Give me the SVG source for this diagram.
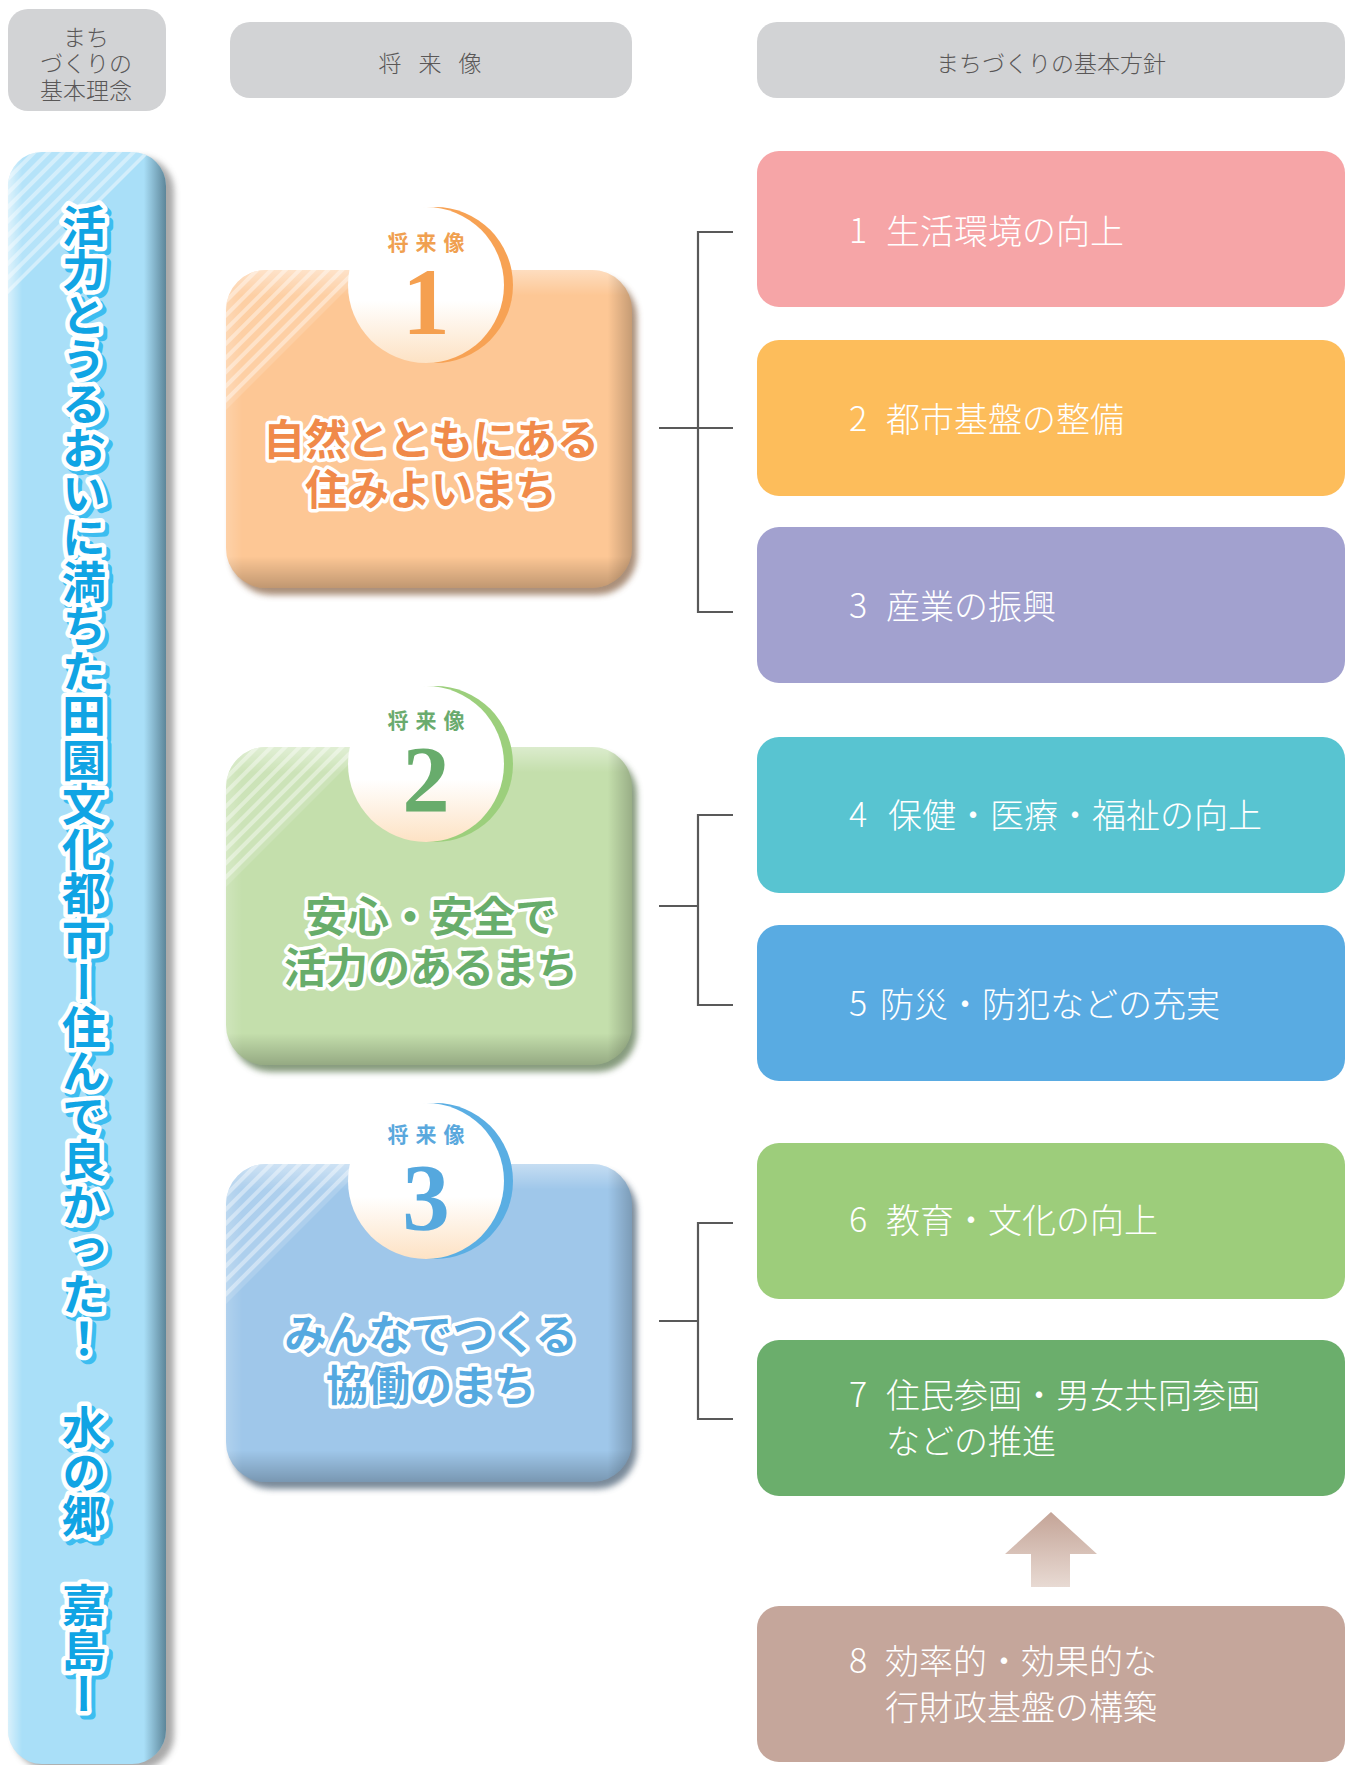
<svg xmlns="http://www.w3.org/2000/svg" width="1351" height="1765" viewBox="0 0 1351 1765">
<style>
text{font-family:"Noto Sans CJK JP","Noto Sans CJK SC",sans-serif}
.hd{fill:#595757;font-size:23px;font-weight:300;text-anchor:middle;dominant-baseline:central}
.pol{fill:#fff;font-size:34px;font-weight:300;dominant-baseline:central}
.lbl{font-size:21px;font-weight:700;text-anchor:middle;dominant-baseline:central;letter-spacing:7px}
.num{font-family:"Liberation Serif",serif;font-size:95px;font-weight:700;text-anchor:middle}
.main{font-size:42px;font-weight:700;text-anchor:middle;dominant-baseline:central;stroke:#fff;stroke-width:7px;stroke-linejoin:round;paint-order:stroke}
.conn{fill:none;stroke:#595959;stroke-width:2.2}
.vt{font-size:44px;font-weight:700;writing-mode:vertical-rl;letter-spacing:0.5px;stroke-linejoin:round;paint-order:stroke}
</style>
<defs>
  <filter id="blur" x="-10%" y="-10%" width="120%" height="120%"><feGaussianBlur stdDeviation="3"/></filter>
  <pattern id="stripes" width="10" height="10" patternUnits="userSpaceOnUse" patternTransform="rotate(45)"><rect width="4" height="10" fill="#fff"/></pattern>
  <linearGradient id="shadeV" x1="0" y1="0" x2="0" y2="1">
    <stop offset="0" stop-color="#fff" stop-opacity=".4"/>
    <stop offset=".08" stop-color="#fff" stop-opacity="0"/>
    <stop offset=".9" stop-color="#000" stop-opacity="0"/>
    <stop offset="1" stop-color="#000" stop-opacity=".24"/>
  </linearGradient>
  <linearGradient id="shadeH" x1="0" y1="0" x2="1" y2="0">
    <stop offset="0" stop-color="#fff" stop-opacity=".18"/>
    <stop offset=".04" stop-color="#fff" stop-opacity="0"/>
    <stop offset=".94" stop-color="#000" stop-opacity="0"/>
    <stop offset="1" stop-color="#000" stop-opacity=".22"/>
  </linearGradient>
  <linearGradient id="barH" x1="0" y1="0" x2="1" y2="0">
    <stop offset="0" stop-color="#fff" stop-opacity=".55"/>
    <stop offset=".09" stop-color="#fff" stop-opacity="0"/>
    <stop offset=".86" stop-color="#2a4a5a" stop-opacity="0"/>
    <stop offset="1" stop-color="#2a4a5a" stop-opacity=".6"/>
  </linearGradient>
  <linearGradient id="disc" x1="0" y1="0" x2="0" y2="1">
    <stop offset="0" stop-color="#fff"/>
    <stop offset=".6" stop-color="#fff"/>
    <stop offset="1" stop-color="#fde2c4"/>
  </linearGradient>
  <linearGradient id="arrowG" x1="0" y1="0" x2="0" y2="1">
    <stop offset="0" stop-color="#c4a497"/>
    <stop offset="1" stop-color="#e8dad3"/>
  </linearGradient>
  <clipPath id="vclip"><rect width="406" height="318" rx="40"/></clipPath>
  <clipPath id="barclip"><rect x="8" y="152" width="158" height="1612" rx="34"/></clipPath>
</defs>
<rect width="1351" height="1765" fill="#fff"/>

<!-- headers -->
<g id="header1">
  <rect x="8" y="9" width="158" height="102" rx="20" fill="#d2d3d5"/>
  <text class="hd" x="86" y="36">まち</text>
  <text class="hd" x="86" y="62">づくりの</text>
  <text class="hd" x="86" y="89">基本理念</text>
</g>
<g id="header2">
  <rect x="230" y="22" width="402" height="76" rx="20" fill="#d2d3d5"/>
  <text class="hd" x="433" y="62" style="letter-spacing:6px">将 来 像</text>
</g>
<g id="header3">
  <rect x="757" y="22" width="588" height="76" rx="20" fill="#d2d3d5"/>
  <text class="hd" x="1051" y="62">まちづくりの基本方針</text>
</g>

<!-- left bar -->
<g id="philosophy">
  <rect x="14" y="157" width="160" height="1612" rx="34" fill="#555" opacity=".5" filter="url(#blur)"/>
  <rect x="8" y="152" width="158" height="1612" rx="34" fill="#a9dff8"/>
  <rect x="8" y="152" width="158" height="1612" rx="34" fill="url(#barH)"/>
  <g clip-path="url(#barclip)">
    <polygon points="8,152 150,152 8,294" fill="#fff" opacity=".15"/>
    <polygon points="8,152 150,152 8,294" fill="url(#stripes)" opacity=".4"/>
  </g>
  <text class="vt" x="88" y="208" fill="#3cbdf0" stroke="#3cbdf0" stroke-width="9">活力とうるおいに満ちた田園文化都市ー住んで良かった！　水の郷　嘉島ー</text>
  <text class="vt" x="84" y="204" fill="#10a4e4" stroke="#fff" stroke-width="9">活力とうるおいに満ちた田園文化都市ー住んで良かった！　水の郷　嘉島ー</text>
</g>

<!-- vision boxes -->
<g id="vision1" transform="translate(226,270)">
  <rect x="5" y="7" width="406" height="318" rx="40" fill="#8f6a4e" opacity=".75" filter="url(#blur)"/>
  <rect width="406" height="318" rx="40" fill="#fdc795"/>
  <rect width="406" height="318" rx="40" fill="url(#shadeV)"/>
  <rect width="406" height="318" rx="40" fill="url(#shadeH)"/>
  <g clip-path="url(#vclip)">
    <polygon points="0,0 140,0 0,140" fill="#fff" opacity=".15"/>
    <polygon points="0,0 140,0 0,140" fill="url(#stripes)" opacity=".4"/>
  </g>
  <circle cx="209" cy="15" r="78" fill="#f7a254"/>
  <circle cx="200" cy="15" r="78" fill="url(#disc)"/>
  <text class="lbl" x="203.5" y="-29" fill="#f0a050">将来像</text>
  <text class="num" x="200" y="64" fill="#f5a050">1</text>
  <text class="main" x="205" y="166" fill="#f08a4a">自然とともにある</text>
  <text class="main" x="205" y="216" fill="#f08a4a">住みよいまち</text>
</g>
<g id="vision2" transform="translate(226,747)">
  <rect x="5" y="7" width="406" height="318" rx="40" fill="#5f7a52" opacity=".75" filter="url(#blur)"/>
  <rect width="406" height="318" rx="40" fill="#c4dfac"/>
  <rect width="406" height="318" rx="40" fill="url(#shadeV)"/>
  <rect width="406" height="318" rx="40" fill="url(#shadeH)"/>
  <g clip-path="url(#vclip)">
    <polygon points="0,0 140,0 0,140" fill="#fff" opacity=".15"/>
    <polygon points="0,0 140,0 0,140" fill="url(#stripes)" opacity=".4"/>
  </g>
  <circle cx="209" cy="17" r="78" fill="#9ccf7c"/>
  <circle cx="200" cy="17" r="78" fill="url(#disc)"/>
  <text class="lbl" x="203.5" y="-28" fill="#6aab6e">将来像</text>
  <text class="num" x="200" y="65" fill="#68ac6c">2</text>
  <text class="main" x="205" y="166" fill="#68ad6b">安心・安全で</text>
  <text class="main" x="205" y="217" fill="#68ad6b">活力のあるまち</text>
</g>
<g id="vision3" transform="translate(226,1164)">
  <rect x="5" y="7" width="406" height="318" rx="40" fill="#4d6478" opacity=".75" filter="url(#blur)"/>
  <rect width="406" height="318" rx="40" fill="#9fc7ea"/>
  <rect width="406" height="318" rx="40" fill="url(#shadeV)"/>
  <rect width="406" height="318" rx="40" fill="url(#shadeH)"/>
  <g clip-path="url(#vclip)">
    <polygon points="0,0 140,0 0,140" fill="#fff" opacity=".15"/>
    <polygon points="0,0 140,0 0,140" fill="url(#stripes)" opacity=".4"/>
  </g>
  <circle cx="209" cy="17" r="78" fill="#5aaee3"/>
  <circle cx="200" cy="17" r="78" fill="url(#disc)"/>
  <text class="lbl" x="203.5" y="-31" fill="#5aa8dd">将来像</text>
  <text class="num" x="200" y="66" fill="#55a8de">3</text>
  <text class="main" x="205" y="167" fill="#55a9e0">みんなでつくる</text>
  <text class="main" x="205" y="218" fill="#55a9e0">協働のまち</text>
</g>

<!-- policy boxes -->
<g id="policy1"><rect x="757" y="151" width="588" height="156" rx="22" fill="#f6a5a7"/>
  <text class="pol" x="849" y="228.5">1<tspan x="886">生活環境の向上</tspan></text></g>
<g id="policy2"><rect x="757" y="340" width="588" height="156" rx="22" fill="#fdbd5b"/>
  <text class="pol" x="849" y="416.5">2<tspan x="886">都市基盤の整備</tspan></text></g>
<g id="policy3"><rect x="757" y="527" width="588" height="156" rx="22" fill="#a2a1cf"/>
  <text class="pol" x="849" y="603.5">3<tspan x="886">産業の振興</tspan></text></g>
<g id="policy4"><rect x="757" y="737" width="588" height="156" rx="22" fill="#58c4d1"/>
  <text class="pol" x="849" y="812.5">4<tspan x="888">保健・医療・福祉の向上</tspan></text></g>
<g id="policy5"><rect x="757" y="925" width="588" height="156" rx="22" fill="#59abe2"/>
  <text class="pol" x="849" y="1001.5">5<tspan x="880">防災・防犯などの充実</tspan></text></g>
<g id="policy6"><rect x="757" y="1143" width="588" height="156" rx="22" fill="#9dcd7b"/>
  <text class="pol" x="849" y="1217.5">6<tspan x="886">教育・文化の向上</tspan></text></g>
<g id="policy7"><rect x="757" y="1340" width="588" height="156" rx="22" fill="#6bae6c"/>
  <text class="pol" x="849" y="1392.5">7<tspan x="886">住民参画・男女共同参画</tspan></text>
  <text class="pol" x="886" y="1439.5">などの推進</text></g>
<g id="policy8"><rect x="757" y="1606" width="588" height="156" rx="22" fill="#c5a69b"/>
  <text class="pol" x="849" y="1658.5">8<tspan x="885">効率的・効果的な</tspan></text>
  <text class="pol" x="885" y="1705.5">行財政基盤の構築</text></g>

<!-- connectors -->
<g id="connectors">
  <path class="conn" d="M733,232 H698 V612 H733 M659,428 H733"/>
  <path class="conn" d="M733,815 H698 V1005 H733 M659,906 H698"/>
  <path class="conn" d="M733,1223 H698 V1419 H733 M659,1321 H698"/>
  <polygon points="1051,1512 1097,1554 1070,1554 1070,1587 1031,1587 1031,1554 1005,1554" fill="url(#arrowG)"/>
</g>
</svg>
